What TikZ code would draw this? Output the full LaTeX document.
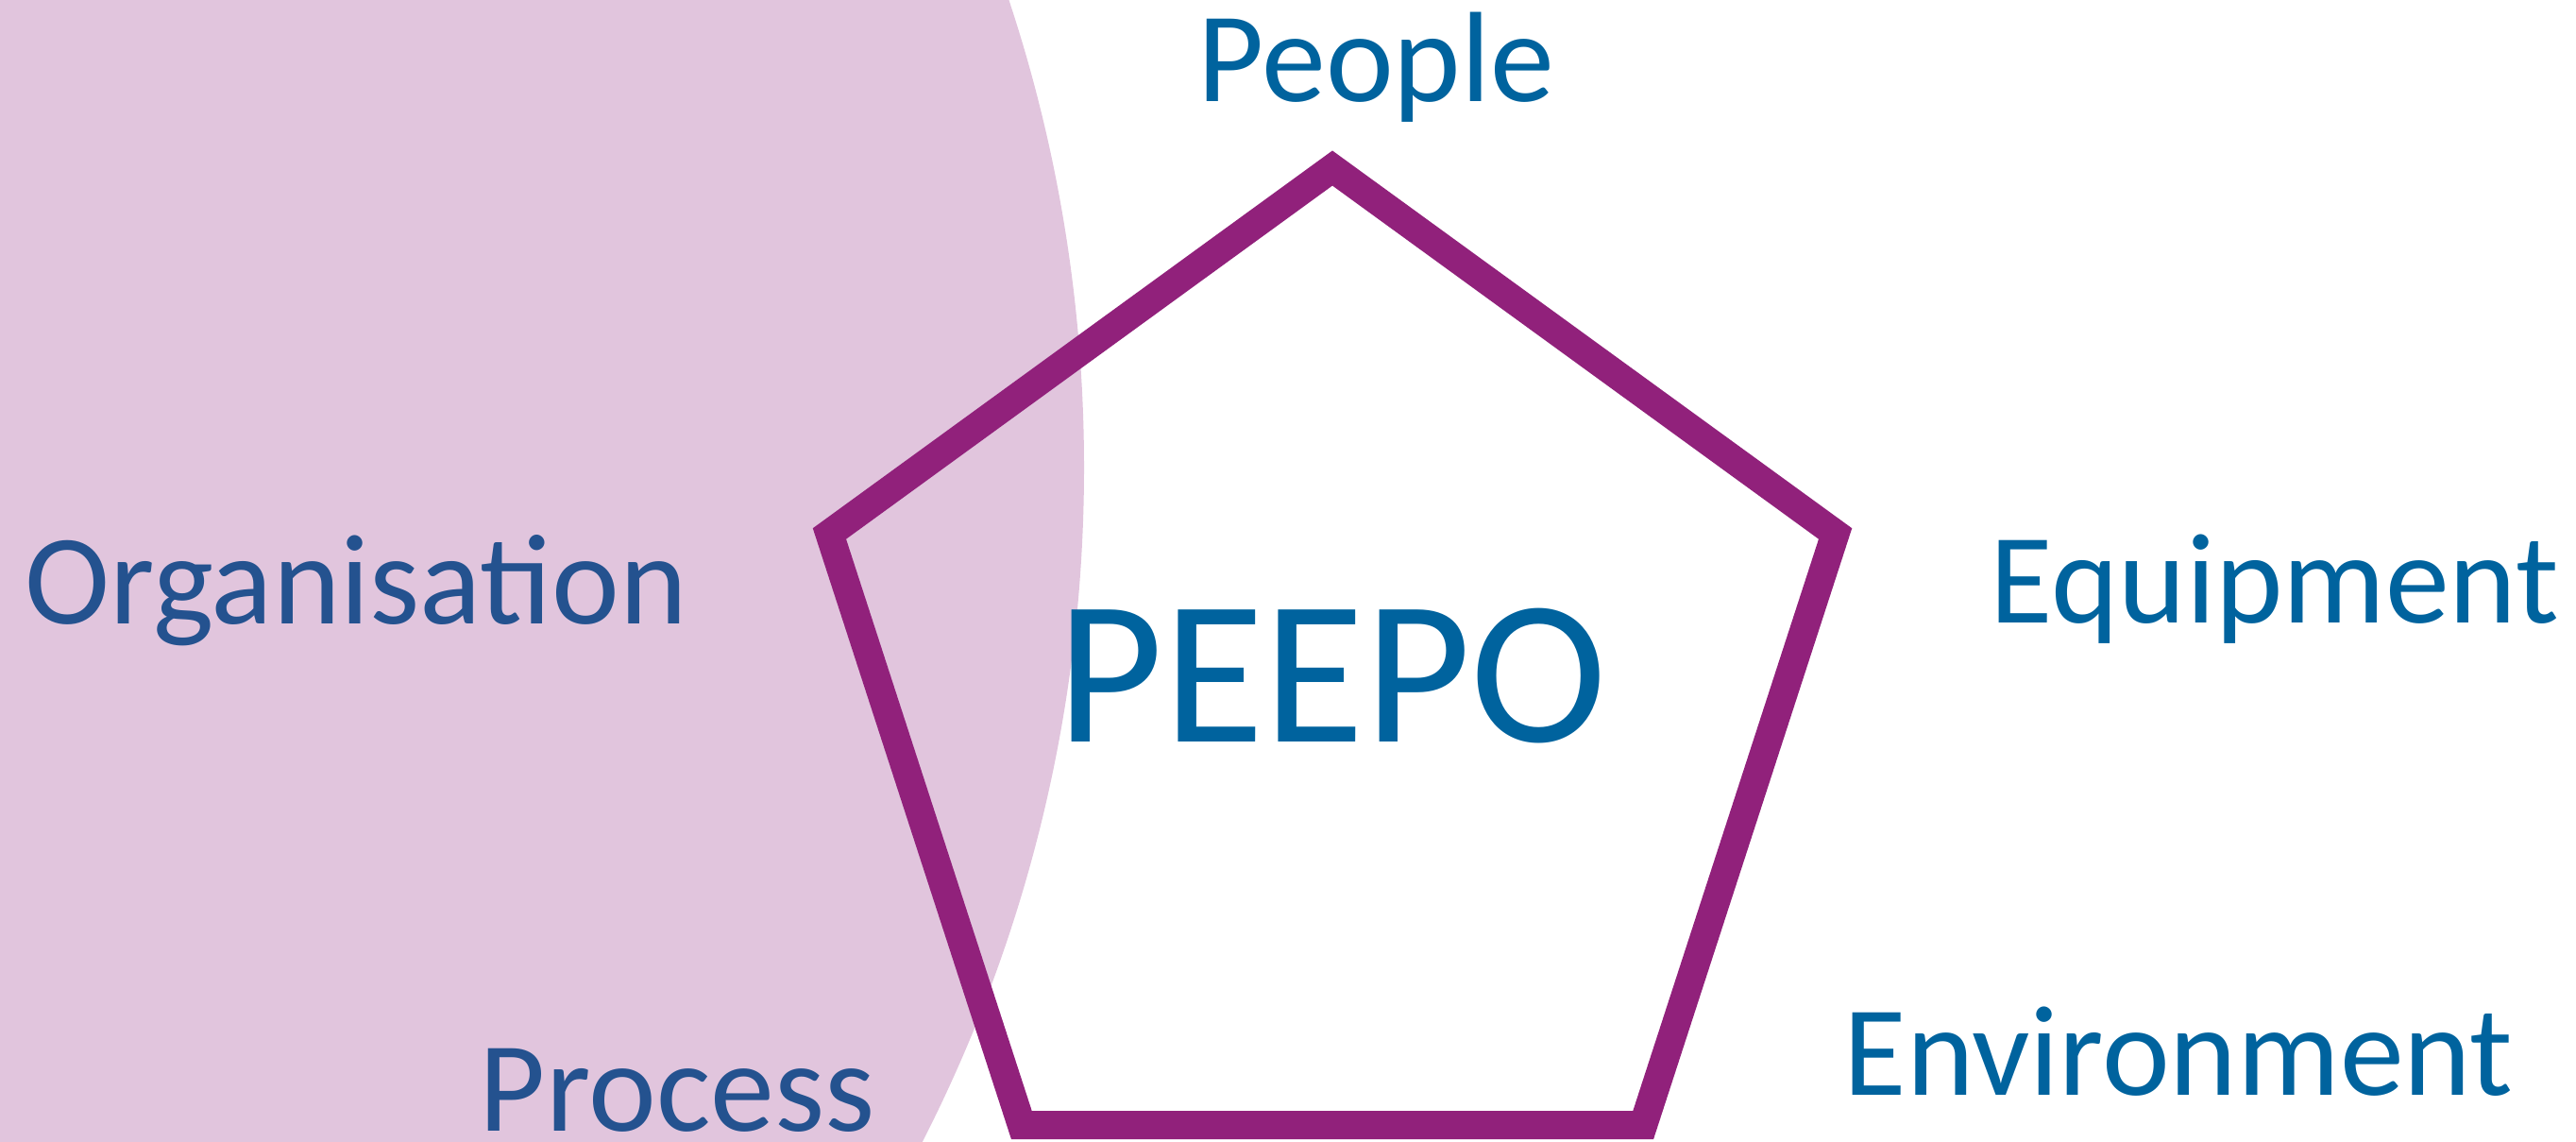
\documentclass[tikz,border=0pt]{standalone}
\usepackage{fontspec}
\setmainfont{Carlito}
\usetikzlibrary{shapes.geometric}
\definecolor{orgpink}{HTML}{E1C5DD}
\definecolor{rimpurple}{HTML}{91217B}
\definecolor{labelblue}{HTML}{00639E}
\definecolor{deepblue}{HTML}{24528F}
\tikzset{
  lbl/.style={font=\fontsize{38.7}{46}\selectfont, text=labelblue, inner sep=0pt, anchor=base west},
  rim/.style={draw=rimpurple, line width=0.3cm, regular polygon, regular polygon sides=5, minimum size=11.2cm, inner sep=0pt},
}
\begin{document}
\begin{tikzpicture}
\pgfmathsetmacro{\rad}{15.71}
\useasboundingbox (0,0) rectangle (27.28,-12.08);
\clip (0,0) rectangle (27.28,-12.08);
\fill[orgpink] (-4.23,-4.95) circle (\rad);
\node[rim] (pent) at (14.11,-7.38) {};
\node[font=\fontsize{62}{74}\selectfont, text=labelblue, inner sep=0pt, anchor=base] (peepo) at ([yshift=-0.47cm]pent.center) {PEEPO};
\node[lbl] (people) at (12.68,-1.07) {People};
\node[lbl] (equip) at (21.07,-6.59) {Equipment};
\node[lbl] (envir) at (19.52,-11.59) {Environment};
\node[lbl, text=deepblue] (organ) at (0.26,-6.60) {Organisation};
\node[lbl, text=deepblue] (proc) at (5.07,-11.97) {Process};
\end{tikzpicture}
\end{document}
